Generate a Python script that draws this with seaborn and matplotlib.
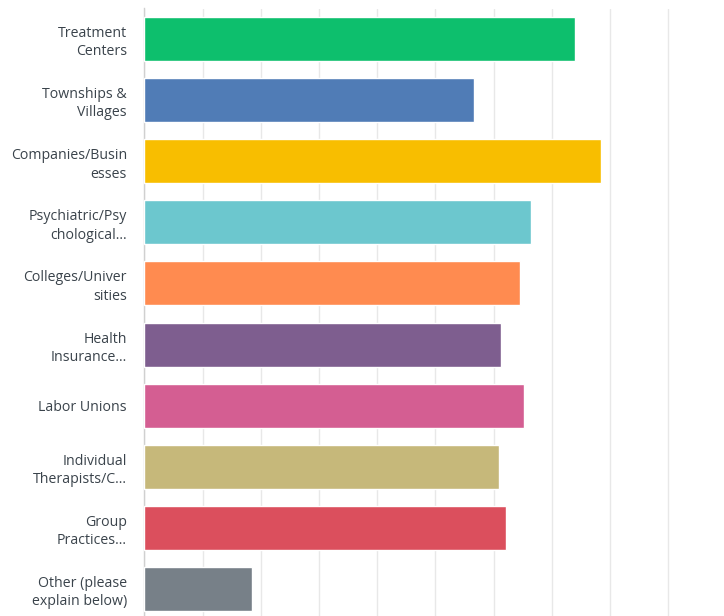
import matplotlib
matplotlib.use("Agg")
import matplotlib.pyplot as plt
import seaborn as sns
import pandas as pd

categories = [
    "Treatment\nCenters",
    "Townships &\nVillages",
    "Companies/Busin\nesses",
    "Psychiatric/Psy\nchological...",
    "Colleges/Univer\nsities",
    "Health\nInsurance...",
    "Labor Unions",
    "Individual\nTherapists/C...",
    "Group\nPractices...",
    "Other (please\nexplain below)",
]
values = [74.0, 56.7, 78.5, 66.4, 64.6, 61.3, 65.2, 60.9, 62.2, 18.5]
colors = ["#0dbf6d", "#507cb6", "#f8be00", "#6cc7ce", "#ff8b50", "#7e5e8f",
          "#d45e92", "#c6b87a", "#db4f5d", "#778088"]

df = pd.DataFrame({"category": categories, "value": values})

sns.set_theme(style="white")
plt.rcParams["font.family"] = ["Open Sans", "DejaVu Sans"]

fig = plt.figure(figsize=(7.24, 6.16), dpi=100)
ax = fig.add_axes([144.4 / 724, -3.5 / 616, 582 / 724, 611 / 616])

sns.barplot(data=df, y="category", x="value", hue="category", palette=colors,
            order=categories, hue_order=categories, legend=False, width=0.72,
            saturation=1, orient="h", ax=ax, zorder=3)

ax.set_xlim(0, 100)
ax.set_xticks(range(0, 101, 10))
ax.set_xticklabels([])
ax.grid(axis="x", color="#e8e8e8", linewidth=1, zorder=0)
ax.grid(axis="y", visible=False)
ax.set_axisbelow(True)
for s in ["top", "right", "bottom"]:
    ax.spines[s].set_visible(False)
ax.spines["left"].set_color("#d0d0d0")
ax.spines["left"].set_linewidth(1)
ax.set_xlabel("")
ax.set_ylabel("")
ax.tick_params(axis="y", length=0, pad=12.5, labelsize=10.2, labelcolor="#3a434b")
ax.tick_params(axis="x", length=0)
for lbl in ax.get_yticklabels():
    lbl.set_linespacing(1.3)

fig.savefig("out.png", dpi=100)
